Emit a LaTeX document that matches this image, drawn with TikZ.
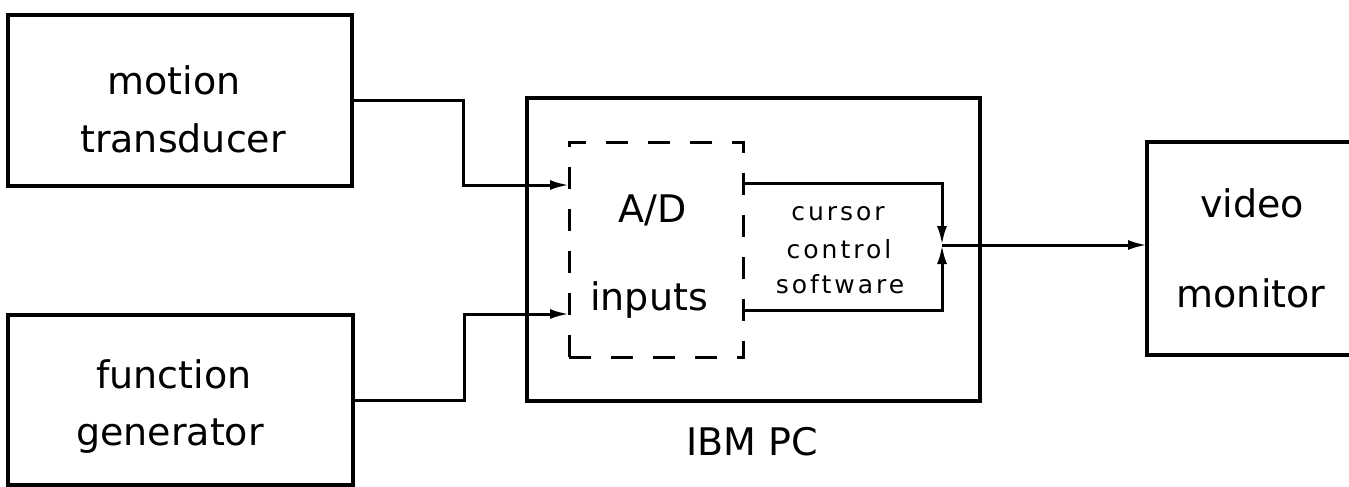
\documentclass[tikz,border=0pt]{standalone}
\usepackage{fontspec}
\usetikzlibrary{arrows.meta,positioning}
\newfontfamily\labelfont{DejaVu Sans}
\newfontfamily\smalllabelfont[LetterSpace=12]{DejaVu Sans}

\begin{document}
\begin{tikzpicture}[x=1pt, y=-1pt, >={Latex[length=19pt,width=10pt]},
  blk/.style={draw, line width=3.5pt, outer sep=0pt, inner sep=0pt},
  lbl/.style={anchor=base, inner sep=0pt, font=\labelfont\fontsize{38}{46}\selectfont},
  slbl/.style={anchor=base, inner sep=0pt, font=\smalllabelfont\fontsize{25}{30}\selectfont},
  arr/.style={->, line width=3pt}]
  \useasboundingbox (0,0) rectangle (1349,487);

  % blocks
  \node[blk, minimum width=344pt, minimum height=171pt] (mt) at (180,100.5) {};
  \node[blk, minimum width=345pt, minimum height=170pt] (fg) at (180.5,400) {};
  \node[blk, minimum width=453pt, minimum height=303pt] (pc) at (753.5,249.5) {};
  \node[blk, line width=3pt, dash pattern=on 22pt off 20pt,
        minimum width=174pt, minimum height=215pt] (ad) at (656,249.5) {};
  \node[blk, minimum width=260pt, minimum height=213pt] (vm) at (1277,248.5) {};
  \coordinate (jn) at (942,245);

  % labels
  \node[lbl] (mt1) at (174,95) {motion};
  \node[lbl] (mt2) at (183,152) {transducer};
  \node[lbl] (fg1) at (174,388) {function};
  \node[lbl] (fg2) at (170,445) {generator};
  \node[lbl] (ad1) at (653,222) {A/D};
  \node[lbl] (ad2) at (649,310) {inputs};
  \node[slbl] (cc1) at (838,220) {cursor};
  \node[slbl] (cc2) at (839,258) {control};
  \node[slbl] (cc3) at (840,293) {software};
  \node[lbl] (vm1) at (1252,217) {video};
  \node[lbl] (vm2) at (1251,307) {monitor};
  \node[lbl] (pcl) at (752,455) {IBM PC};

  % connectors
  \draw[arr] (mt.east) -- ++(111,0) |- ([yshift=64.5pt]ad.west);
  \draw[arr] (fg.east) -- ++(111,0) |- ([yshift=-64.5pt]ad.west);
  \draw[arr] ([yshift=66pt]ad.east) -| (jn);
  \draw[arr] ([yshift=-61pt]ad.east) -| (jn);
  \draw[arr] (jn) -- (jn -| vm.west);
\end{tikzpicture}
\end{document}
